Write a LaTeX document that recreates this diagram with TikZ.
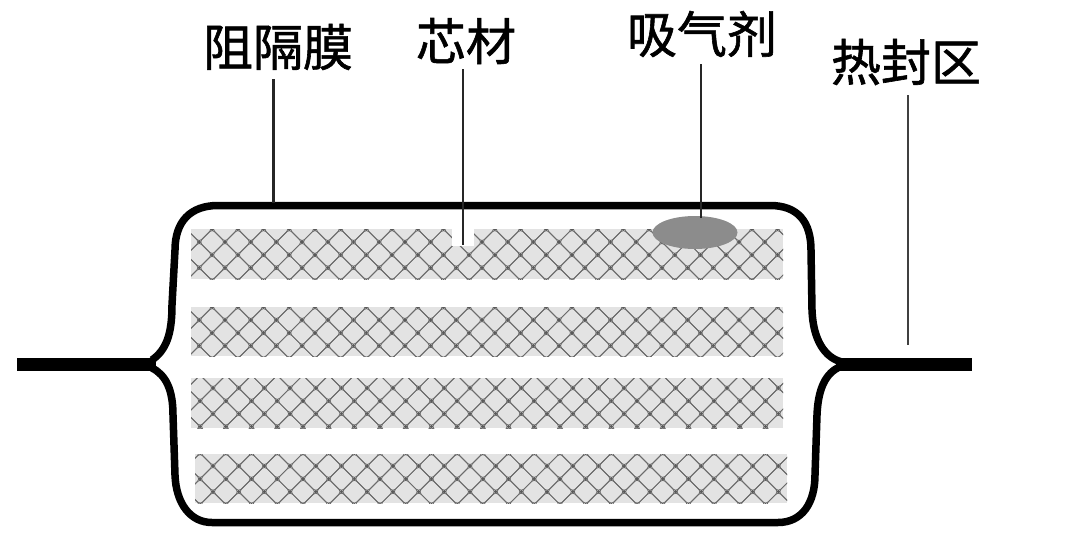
\documentclass[tikz,border=0pt]{standalone}
\usepackage{fontspec}
\newfontfamily\cjk[FakeBold=1.2]{Noto Sans CJK SC}
\tikzset{
	lbl/.style={inner sep=0pt, font=\cjk\fontsize{50}{50}\selectfont},
	leader/.style={line width=2.6pt, black!85},
	film/.style={line width=7.5pt, line join=round},
	tail/.style={line width=13pt},
}
% stripe of core material: corners (x0,y0)(x1,y1), then one lattice crossing (px,py)
\def\corestripe(#1,#2)(#3,#4)(#5,#6){
	\fill[black!11] (#1,#2) rectangle (#3,#4);
	\begin{scope}
		\clip (#1,#2) rectangle (#3,#4);
		\foreach \k in {-3,...,25}{
			\foreach \j in {-2,...,5}{
				\draw[line width=0.85pt, black!58, rounded corners=3.5pt] ({#5+\k*25.7+\j*12.85},{#6+\j*12.85}) -- ++(12.85,-12.85) -- ++(12.85,12.85) -- ++(-12.85,12.85) -- cycle;
				\fill[black!65] ({#5+\k*25.7+\j*12.85},{#6+\j*12.85}) circle (1.7);
			}
		}
	\end{scope}
}

\begin{document}
\begin{tikzpicture}[x=1pt,y=-1pt]
	\useasboundingbox (0,0) rectangle (1080,544);
	
	\corestripe(191,229)(783,279)(225,242)
	\corestripe(191,307)(783,356)(225,320)
	\corestripe(191,378)(783,428)(213,388)
	\corestripe(195,454)(787,503)(213,466)
	\fill[white] (452,228) rectangle (474,246);
	
	\fill[black!45] (695,232.5) ellipse (42.5 and 16.5);
	
	\draw[film] (152,360) .. controls (166,350) and (172,335) .. (172,305) -- (175,250) .. controls (175,222) and (190,205.5) .. (218,205.5) -- (770,205.5) .. controls (798,205.5) and (811,222) .. (811,250) -- (812,310) .. controls (813,340) and (825,358) .. (842,362);
	\draw[film] (152,368) .. controls (166,375) and (173,390) .. (173,415) -- (175,475) .. controls (176,503) and (190,522.5) .. (212,522.5) -- (778,522.5) .. controls (802,522.5) and (815,503) .. (815,475) -- (817,415) .. controls (818,390) and (825,372) .. (842,366);
	\draw[tail] (17,364) -- (156,364);
	\draw[tail] (836,364) -- (972,364);
	
	\node[lbl] (barrier) at (278,47) {阻隔膜};
	\node[lbl] (core) at (466,41) {芯材};
	\node[lbl] (getter) at (702,34) {吸气剂};
	\node[lbl] (seal) at (906,62) {热封区};
	
	\coordinate (barrierend) at (273.5,203);
	\coordinate (coreend) at (463,245);
	\coordinate (getterend) at (701,218);
	\coordinate (sealend) at (908,345);
	
	\draw[leader] (barrier.south -| barrierend) ++(0,9) -- (barrierend);
	\draw[leader] (core.south -| coreend) ++(0,5) -- (coreend);
	\draw[leader] (getter.south -| getterend) ++(0,7) -- (getterend);
	\draw[leader, line width=1.8pt, black!75] (seal.south -| sealend) ++(0,10) -- (sealend);
\end{tikzpicture}
\end{document}
